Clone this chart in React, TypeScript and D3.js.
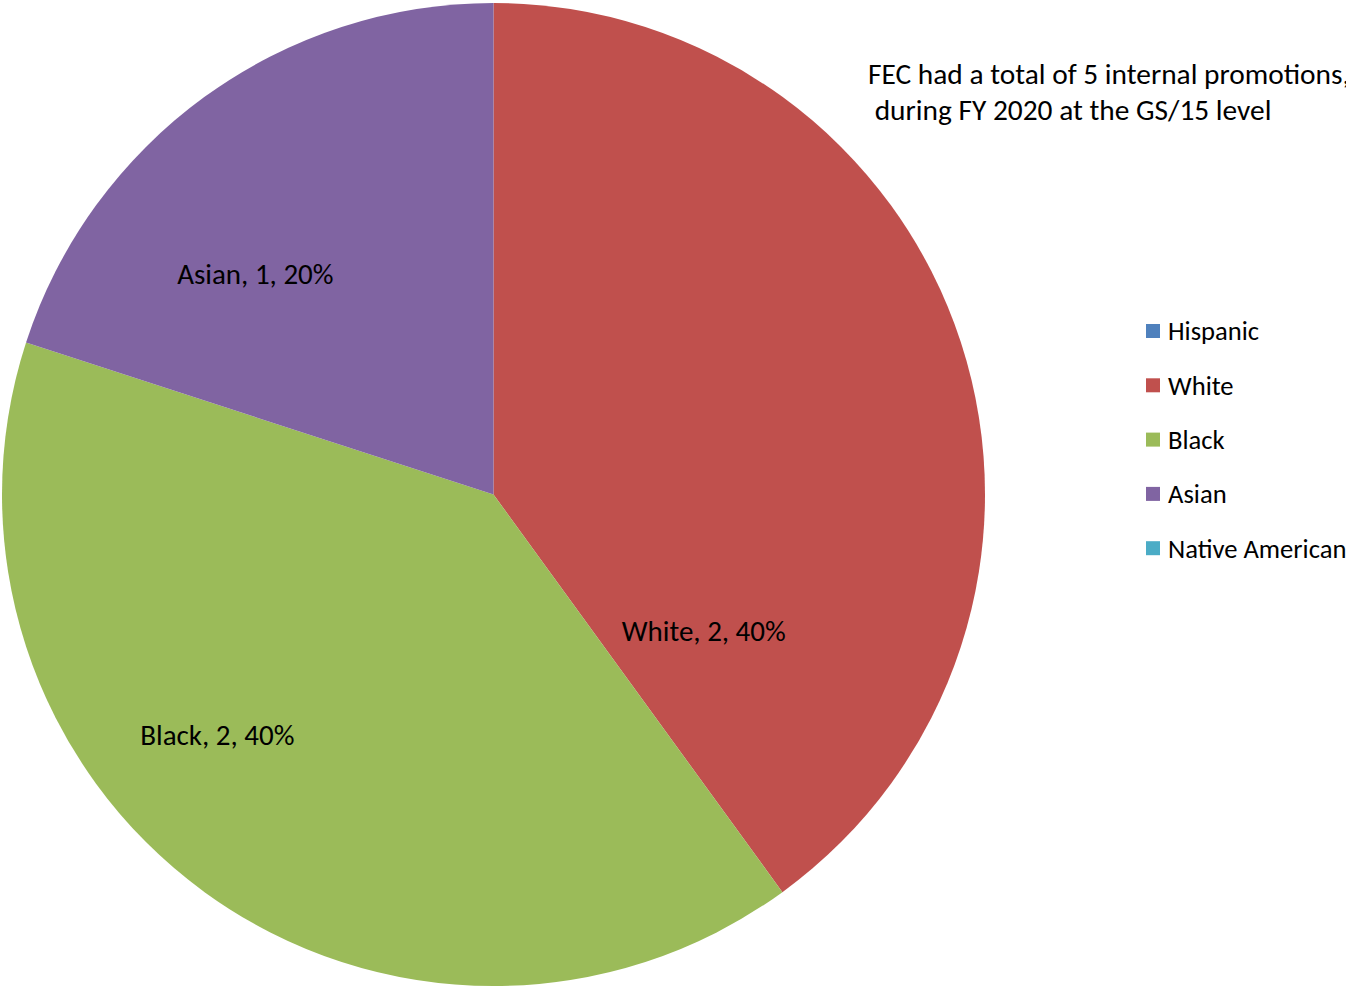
import React from "react";
import * as d3 from "d3";

const categories = ["Hispanic", "White", "Black", "Asian", "Native American"];
const values = [0, 2, 2, 1, 0];
const colors = ["#4F81BD", "#C0504D", "#9BBB59", "#8064A2", "#4BACC6"];
const titleLines = ["FEC had a total of 5 internal promotions,", " during FY 2020 at the GS/15 level"];
// label placement within each slice: fraction of slice angle, fraction of radius
const labelPlace = [
  { a: 0.5, r: 0.6 },
  { a: 0.854, r: 0.51 },
  { a: 0.59, r: 0.745 },
  { a: 0.344, r: 0.66 },
  { a: 0.5, r: 0.6 },
];

const W = 1346;
const H = 986;
const cx = 493.5;
const cy = 494.5;
const R = 491.5;
const FONT = "Carlito, Calibri, Lato, 'Open Sans', sans-serif";

export default function App() {
  const total = d3.sum(values);
  const pie = d3.pie<number>().sort(null).value((d) => d);
  const arcs = pie(values);
  const arcGen = d3.arc<d3.PieArcDatum<number>>().innerRadius(0).outerRadius(R);
  const pct = d3.format(".0%");

  return (
    <svg width={W} height={H} style={{ position: "absolute", left: 0, top: 0, background: "#fff" }}>
      <g transform={`translate(${cx},${cy})`}>
        {arcs.map((a, i) =>
          a.value > 0 ? <path key={i} d={arcGen(a) || ""} fill={colors[i]} /> : null
        )}
        {arcs.map((a, i) => {
          if (a.value <= 0) return null;
          const ang = a.startAngle + (a.endAngle - a.startAngle) * labelPlace[i].a;
          const rr = R * labelPlace[i].r;
          const x = Math.sin(ang) * rr;
          const y = -Math.cos(ang) * rr;
          return (
            <text key={"l" + i} x={x} y={y} dy="0.35em" textAnchor="middle" fontFamily={FONT} fontSize={29} fill="#000">
              {`${categories[i]}, ${a.value}, ${pct(a.value / total)}`}
            </text>
          );
        })}
      </g>
      {titleLines.map((t, i) => (
        <text key={"t" + i} x={868} y={84 + i * 36} fontFamily={FONT} fontSize={29.4} fill="#000" style={{ whiteSpace: "pre" }}>
          {t}
        </text>
      ))}
      {categories.map((c, i) => (
        <g key={"g" + i} transform={`translate(1146,${331 + i * 54.3})`}>
          <rect x={0} y={-7} width={14} height={14} fill={colors[i]} />
          <text x={22} y={0} dy="0.35em" fontFamily={FONT} fontSize={26.6} fill="#000">
            {c}
          </text>
        </g>
      ))}
    </svg>
  );
}
